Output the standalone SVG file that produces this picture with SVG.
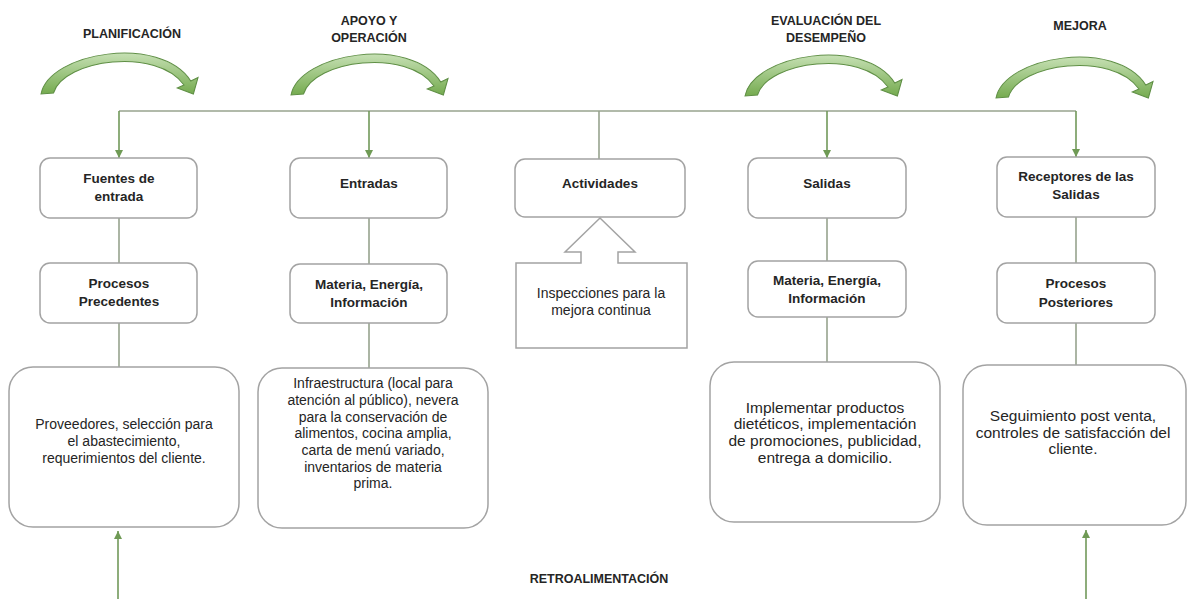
<svg xmlns="http://www.w3.org/2000/svg" width="1188" height="599" viewBox="0 0 1188 599">
<style>
.bx{fill:#fff;stroke:#a3a3a3;stroke-width:1.5}
.ln{fill:none;stroke:#97a38e;stroke-width:1.6}
.gl{fill:none;stroke:#71995a;stroke-width:1.6}
.t{font-family:"Liberation Sans",Arial,sans-serif;fill:#252525;text-anchor:middle}
.b{font-weight:bold;font-size:13.5px}
.h{font-weight:bold;font-size:12.5px}
.r{font-size:14px}
.r2{font-size:15.5px}
.ca{fill:url(#cg);stroke:#5f8f45;stroke-width:1}
</style>
<defs>
<linearGradient id="cg" x1="0" y1="0" x2="0" y2="1">
<stop offset="0" stop-color="#c6e0b4"/>
<stop offset="1" stop-color="#75ab4f"/>
</linearGradient>
<marker id="ah" viewBox="0 0 10 10" refX="10" refY="5" markerWidth="8" markerHeight="8" markerUnits="userSpaceOnUse" orient="auto">
<path d="M0,0 L10,5 L0,10 Z" fill="#6f9a55"/>
</marker>
<path id="carc" d="M0,0 C8,-42 115,-60 144,-13 L151,-16.5 L146.5,0 L131,-6 L137.5,-9 C112,-47 22,-35 12,-1 Z"/>
</defs>

<g id="phases">
<text class="t h" x="132" y="37.5">PLANIFICACIÓN</text>
<text class="t h" x="369" y="24.5">APOYO Y</text>
<text class="t h" x="369" y="42">OPERACIÓN</text>
<text class="t h" x="826" y="25">EVALUACIÓN DEL</text>
<text class="t h" x="826" y="42">DESEMPEÑO</text>
<text class="t h" x="1080" y="29.5">MEJORA</text>
<use href="#carc" class="ca" transform="translate(41,94) scale(1.04,1)"/>
<use href="#carc" class="ca" transform="translate(291,95) scale(1.04,1)"/>
<use href="#carc" class="ca" transform="translate(745,96) scale(1.04,1)"/>
<use href="#carc" class="ca" transform="translate(996,98) scale(1.04,1)"/>
</g>

<g id="connectors">
<path class="ln" d="M119,111 H1076"/>
<path class="gl" d="M119,111 V158" marker-end="url(#ah)"/>
<path class="gl" d="M369,111 V158" marker-end="url(#ah)"/>
<path class="ln" d="M599,111 V159"/>
<path class="gl" d="M827,111 V158" marker-end="url(#ah)"/>
<path class="gl" d="M1076,111 V157" marker-end="url(#ah)"/>
<path class="ln" d="M119,218 V263 M119,323 V367"/>
<path class="ln" d="M369,218 V264 M369,323 V368"/>
<path class="ln" d="M827,218 V261 M827,317 V362"/>
<path class="ln" d="M1076,217 V263 M1076,323 V365"/>
<path class="gl" d="M118,599 V531" marker-end="url(#ah)"/>
<path class="gl" d="M1086,599 V530" marker-end="url(#ah)"/>
</g>

<g id="fuentes">
<rect class="bx" x="40" y="158" width="157" height="60" rx="10"/>
<text class="t b" x="119" y="183">Fuentes de</text>
<text class="t b" x="119" y="201">entrada</text>
</g>
<g id="entradas">
<rect class="bx" x="290" y="158" width="157" height="60" rx="10"/>
<text class="t b" x="369" y="188">Entradas</text>
</g>
<g id="actividades">
<rect class="bx" x="515" y="159" width="170" height="58" rx="10"/>
<text class="t b" x="600" y="188">Actividades</text>
</g>
<g id="salidas">
<rect class="bx" x="748" y="158" width="158" height="60" rx="10"/>
<text class="t b" x="827" y="188">Salidas</text>
</g>
<g id="receptores">
<rect class="bx" x="997" y="157" width="158" height="60" rx="10"/>
<text class="t b" x="1076" y="181">Receptores de las</text>
<text class="t b" x="1076" y="199">Salidas</text>
</g>

<g id="precedentes">
<rect class="bx" x="40" y="263" width="157" height="60" rx="10"/>
<text class="t b" x="119" y="288">Procesos</text>
<text class="t b" x="119" y="306">Precedentes</text>
</g>
<g id="mei-entrada">
<rect class="bx" x="290" y="264" width="157" height="59" rx="10"/>
<text class="t b" x="369" y="289">Materia, Energía,</text>
<text class="t b" x="369" y="307">Información</text>
</g>
<g id="inspecciones">
<path class="bx" d="M516,263 L581,263 L581,252 L565,252 L600,218 L635,252 L618,252 L618,263 L687,263 L687,348 L516,348 Z"/>
<text class="t r" x="601" y="298">Inspecciones para la</text>
<text class="t r" x="601" y="315">mejora continua</text>
</g>
<g id="mei-salida">
<rect class="bx" x="748" y="261" width="158" height="56" rx="10"/>
<text class="t b" x="827" y="285">Materia, Energía,</text>
<text class="t b" x="827" y="303">Información</text>
</g>
<g id="posteriores">
<rect class="bx" x="997" y="263" width="158" height="60" rx="10"/>
<text class="t b" x="1076" y="288">Procesos</text>
<text class="t b" x="1076" y="307">Posteriores</text>
</g>

<g id="proveedores">
<rect class="bx" x="9" y="367" width="230" height="160" rx="24"/>
<text class="t r" x="124" y="429">Proveedores, selección para</text>
<text class="t r" x="124" y="446">el abastecimiento,</text>
<text class="t r" x="124" y="463">requerimientos del cliente.</text>
</g>
<g id="infraestructura">
<rect class="bx" x="258" y="368" width="230" height="160" rx="24"/>
<text class="t r" x="373" y="388">Infraestructura (local para</text>
<text class="t r" x="373" y="405">atención al público), nevera</text>
<text class="t r" x="373" y="422">para la conservación de</text>
<text class="t r" x="373" y="438">alimentos, cocina amplia,</text>
<text class="t r" x="373" y="455">carta de menú variado,</text>
<text class="t r" x="373" y="472">inventarios de materia</text>
<text class="t r" x="373" y="488">prima.</text>
</g>
<g id="implementar">
<rect class="bx" x="710" y="362" width="230" height="160" rx="24"/>
<text class="t r2" x="825" y="413">Implementar productos</text>
<text class="t r2" x="825" y="429">dietéticos, implementación</text>
<text class="t r2" x="825" y="446">de promociones, publicidad,</text>
<text class="t r2" x="825" y="463">entrega a domicilio.</text>
</g>
<g id="seguimiento">
<rect class="bx" x="963" y="365" width="223" height="160" rx="24"/>
<text class="t r2" x="1073" y="421">Seguimiento post venta,</text>
<text class="t r2" x="1073" y="438">controles de satisfacción del</text>
<text class="t r2" x="1073" y="454">cliente.</text>
</g>

<g id="retro">
<text class="t h" x="599" y="583">RETROALIMENTACIÓN</text>
</g>
</svg>
